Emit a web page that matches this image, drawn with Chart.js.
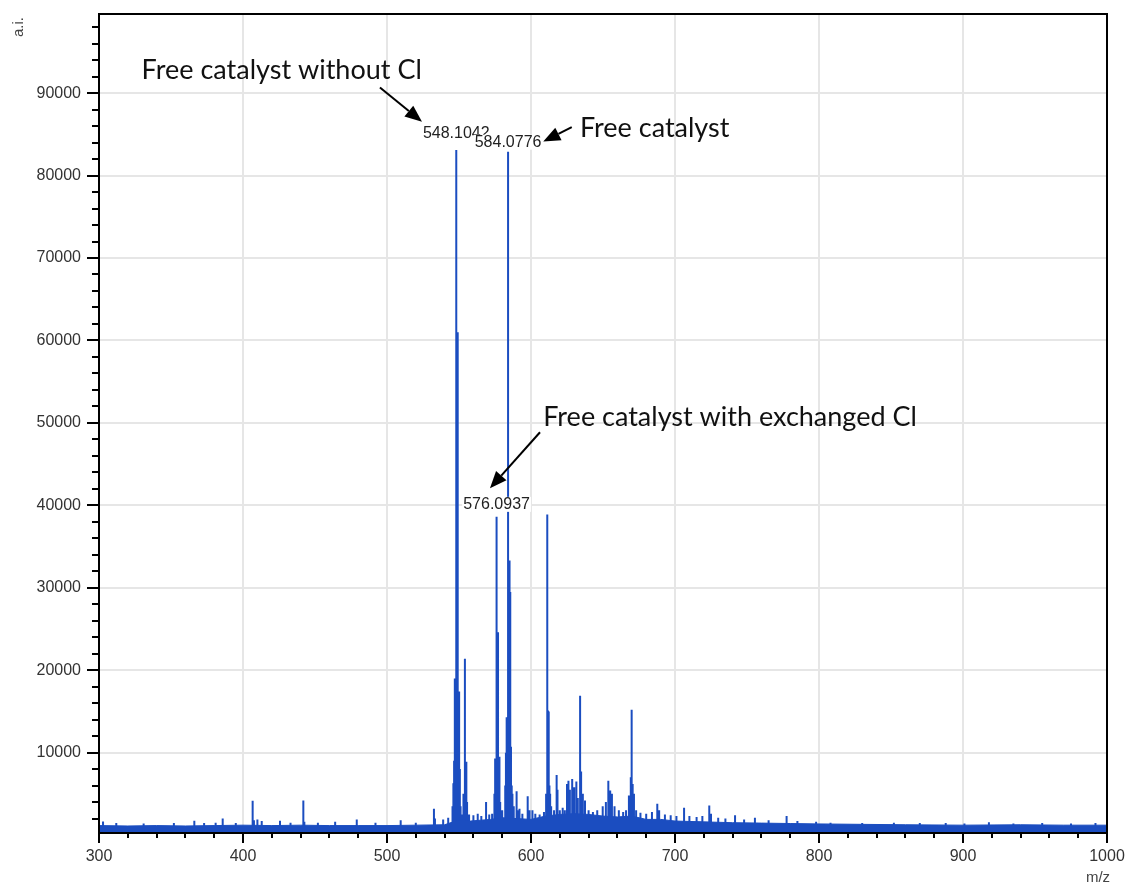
<!DOCTYPE html>
<html>
<head>
<meta charset="utf-8">
<title>MALDI spectrum</title>
<script src="https://cdn.jsdelivr.net/npm/chart.js@4.4.0/dist/chart.umd.min.js"></script>
<style>
  html, body { margin: 0; padding: 0; background: #fff; }
</style>
</head>
<body>
<canvas id="spectrum" width="1128" height="888"></canvas>
<script>
// axis ranges and ticks
const X_MIN = 300, X_MAX = 1000, X_MINOR = 20;
const Y_MIN = 250, Y_MAX = 99600, Y_MINOR = 2000;
const xMajorTicks = [300, 400, 500, 600, 700, 800, 900, 1000];
const yMajorTicks = [10000, 20000, 30000, 40000, 50000, 60000, 70000, 80000, 90000];

// noise floor of the trace (m/z, a.i.)
const baselineMz = [300, 320, 340, 360, 380, 400, 420, 440, 460, 480, 500, 520, 540, 546, 552, 558, 565,
  572, 580, 590, 600, 610, 620, 630, 640, 650, 660, 670, 680, 690, 700, 720, 740, 760, 780, 800, 830,
  860, 900, 940, 970, 1000];
const baselineLevel = [1150, 1100, 1150, 1100, 1150, 1200, 1150, 1200, 1150, 1150, 1150, 1200, 1250, 1600,
  1900, 1700, 1800, 1900, 2100, 2000, 1900, 2300, 2500, 2600, 2500, 2300, 2200, 2300, 1900, 1900, 1700,
  1600, 1500, 1450, 1400, 1350, 1300, 1250, 1200, 1250, 1200, 1200];

// peak list (m/z, a.i.)
const peakMz = [302.8, 312, 331, 352, 366.2, 373, 381, 385.9, 395, 406.7, 407.6, 410, 413, 425.7, 433,
  441.9, 442.6, 452, 464, 479, 492, 509.5, 520, 532.6, 533.3, 539, 542.5,
  545.5, 546.1, 546.6, 547.1, 547.6, 548.1042, 548.6, 549.1, 549.6, 550.1, 550.6, 551.1, 552.2, 553.1,
  554.1, 554.6, 555.1, 555.6, 557, 560, 563, 565.5, 568.8, 571, 573, 574.6, 575.1, 575.6, 576.0937,
  576.6, 577.1, 577.6, 578.1, 578.6, 580, 582.1, 582.6, 583.1, 583.6, 584.0776, 585.1, 585.6, 586.1,
  586.6, 587.1, 588, 590, 590.6, 592, 594, 597.7, 599, 601, 603, 606, 609, 610.5, 611.3, 611.8, 612.3,
  612.8, 613.3, 614, 616, 617.8, 618.4, 620, 622, 623.5, 625, 626, 627, 628.6, 630, 631.5, 632.5, 634.1,
  634.8, 636, 637.5, 640, 643, 646, 649.8, 652, 653.7, 655, 656.2, 658, 661, 664, 666, 668, 669.3,
  669.9, 670.6, 671.5, 673, 676, 680, 684, 687.7, 689, 693, 697, 701, 706.3, 710, 715, 719, 723.8, 725,
  730, 735, 741.7, 748, 755.5, 765, 777.5, 785, 798, 808, 830, 852, 870, 888, 901, 918, 935, 955, 975, 992];
const peakHeight = [1650, 1450, 1400, 1450, 1750, 1450, 1500, 2000, 1450, 4150, 1800, 1900, 1700, 1750, 1500,
  4200, 1600, 1500, 1600, 1900, 1500, 1800, 1500, 3200, 2000, 1900, 2100,
  3500, 6300, 9000, 19000, 15000, 83100, 17000, 61000, 17000, 17400, 8000, 3500, 2500, 5000,
  21400, 8000, 8900, 4000, 2500, 2400, 2600, 2300, 4000, 2500, 2600, 5000, 9300, 9000, 38600,
  9500, 24600, 9000, 9500, 4000, 3000, 6000, 10000, 14300, 12000, 82900, 33300, 29500, 10700,
  6000, 5000, 3500, 5300, 3000, 3200, 2600, 4700, 3000, 3000, 2600, 2500, 2800, 5000, 38900, 15100, 15000,
  6000, 5000, 3500, 3000, 7300, 5500, 3000, 3300, 3000, 6200, 6600, 5500, 6800, 5800, 6500, 4500, 16900,
  7700, 5000, 4200, 3000, 2800, 3000, 3500, 4000, 6600, 5400, 5000, 3500, 3000, 2800, 3000, 4800, 7000,
  15200, 6200, 5000, 3000, 2700, 2600, 2800, 3800, 3000, 2500, 2400, 2300, 3300, 2300, 2200, 2300, 3600, 2600,
  2100, 2000, 2400, 1900, 2100, 1800, 2300, 1700, 1600, 1500, 1450, 1500, 1450, 1450, 1400, 1550, 1400, 1450, 1400, 1450];

// peaks that carry an m/z label
const labelledPeaks = [548.1042, 584.0776, 576.0937];
const labelLift = [12, 5, 8];

// text callouts, anchored in data units [m/z, a.i.]
const callouts = [
  { text: 'Free catalyst without Cl', at: [329.6, 91700], tail: [495.1, 90680], tip: [524.3, 86520] },
  { text: 'Free catalyst', at: [634.0, 84660], tail: [628.3, 85870], tip: [608.5, 84130] },
  { text: 'Free catalyst with exchanged Cl', at: [608.5, 49660], tail: [606.25, 48860], tip: [571.5, 42060] }
];

const TRACE = '#1b4dc0';
const TICK_FONT = '"Liberation Sans", Arial, sans-serif';
const NOTE_FONT = 'Lato, "Open Sans", sans-serif';

// each peak is a vertical stick from the floor of the plot; null breaks the line between sticks
const sticks = [];
peakMz.forEach((mz, i) => {
  sticks.push({ x: mz, y: Y_MIN }, { x: mz, y: peakHeight[i] }, { x: mz, y: null });
});

function drawArrow(ctx, x0, y0, x1, y1) {
  const ang = Math.atan2(y1 - y0, x1 - x0);
  const len = 17, half = 7;
  const bx = x1 - len * Math.cos(ang), by = y1 - len * Math.sin(ang);
  ctx.strokeStyle = '#000';
  ctx.lineWidth = 2;
  ctx.beginPath();
  ctx.moveTo(x0, y0);
  ctx.lineTo(bx, by);
  ctx.stroke();
  ctx.fillStyle = '#000';
  ctx.beginPath();
  ctx.moveTo(x1, y1);
  ctx.lineTo(bx + half * Math.sin(ang), by - half * Math.cos(ang));
  ctx.lineTo(bx - half * Math.sin(ang), by + half * Math.cos(ang));
  ctx.closePath();
  ctx.fill();
}

const spectrumDecor = {
  id: 'spectrumDecor',
  afterDatasetsDraw(chart) {
    const { ctx, scales: { x, y } } = chart;
    ctx.save();
    // peak labels with a white box behind them
    ctx.font = '16px ' + TICK_FONT;
    ctx.textAlign = 'center';
    ctx.textBaseline = 'alphabetic';
    labelledPeaks.forEach((mz, i) => {
      const h = peakHeight[peakMz.indexOf(mz)];
      const px = x.getPixelForValue(mz);
      const py = y.getPixelForValue(h) - labelLift[i];
      const txt = mz.toFixed(4);
      const w = ctx.measureText(txt).width;
      ctx.fillStyle = '#fff';
      ctx.fillRect(px - w / 2 - 1, py - 12, w + 2, 15);
      ctx.fillStyle = '#222';
      ctx.fillText(txt, px, py);
    });
    // callouts
    callouts.forEach(c => {
      drawArrow(ctx, x.getPixelForValue(c.tail[0]), y.getPixelForValue(c.tail[1]),
        x.getPixelForValue(c.tip[0]), y.getPixelForValue(c.tip[1]));
      ctx.font = '27px ' + NOTE_FONT;
      ctx.fillStyle = '#111';
      ctx.textAlign = 'left';
      ctx.fillText(c.text, x.getPixelForValue(c.at[0]), y.getPixelForValue(c.at[1]));
    });
    ctx.restore();
  },
  afterDraw(chart) {
    const { ctx, chartArea: a, scales: { x, y } } = chart;
    ctx.save();
    ctx.strokeStyle = '#000';
    ctx.lineWidth = 2;
    // tick marks, long at labelled values
    ctx.beginPath();
    y.ticks.forEach(t => {
      const py = Math.round(y.getPixelForValue(t.value));
      const len = yMajorTicks.includes(t.value) ? 12 : 7;
      ctx.moveTo(a.left - len, py);
      ctx.lineTo(a.left, py);
    });
    x.ticks.forEach(t => {
      const px = Math.round(x.getPixelForValue(t.value));
      const len = xMajorTicks.includes(t.value) ? 10 : 5;
      ctx.moveTo(px, a.bottom);
      ctx.lineTo(px, a.bottom + len);
    });
    ctx.stroke();
    // plot frame
    ctx.strokeRect(a.left, a.top, a.right - a.left, a.bottom - a.top);
    // axis titles
    ctx.fillStyle = '#444';
    ctx.font = '15px ' + TICK_FONT;
    ctx.textAlign = 'center';
    ctx.textBaseline = 'middle';
    ctx.fillText('m/z', 1098, 878);
    ctx.translate(19, 27);
    ctx.rotate(-Math.PI / 2);
    ctx.fillText('a.i.', 0, 0);
    ctx.restore();
  }
};

function gridColor(majors) {
  return c => (c.tick && majors.includes(c.tick.value)) ? '#e6e6e6' : 'rgba(0,0,0,0)';
}

new Chart(document.getElementById('spectrum'), {
  type: 'line',
  data: {
    datasets: [
      {
        label: 'baseline',
        data: baselineMz.map((mz, i) => ({ x: mz, y: baselineLevel[i] })),
        borderColor: TRACE,
        backgroundColor: TRACE,
        borderWidth: 1,
        pointRadius: 0,
        tension: 0,
        fill: 'start'
      },
      {
        label: 'peaks',
        data: sticks,
        borderColor: TRACE,
        borderWidth: 2,
        pointRadius: 0,
        tension: 0,
        fill: false,
        spanGaps: false
      }
    ]
  },
  options: {
    responsive: false,
    animation: false,
    layout: { padding: { top: 14, right: 21, left: 0, bottom: 0 } },
    plugins: {
      legend: { display: false },
      tooltip: { enabled: false }
    },
    scales: {
      x: {
        type: 'linear',
        min: X_MIN,
        max: X_MAX,
        afterBuildTicks: s => {
          const t = [];
          for (let v = X_MIN; v <= X_MAX; v += X_MINOR) t.push({ value: v });
          s.ticks = t;
        },
        afterFit: s => {
          s.height = 55;
          s.paddingLeft = 0;
          s.paddingRight = 0;
        },
        ticks: {
          autoSkip: false,
          maxRotation: 0,
          padding: 14,
          color: '#333',
          font: { family: TICK_FONT, size: 16 },
          callback: v => xMajorTicks.includes(v) ? String(v) : ''
        },
        grid: { color: gridColor(xMajorTicks), lineWidth: 2, drawTicks: false },
        border: { display: false }
      },
      y: {
        type: 'linear',
        min: Y_MIN,
        max: Y_MAX,
        afterBuildTicks: s => {
          const t = [];
          for (let v = Y_MINOR; v <= Y_MAX; v += Y_MINOR) t.push({ value: v });
          s.ticks = t;
        },
        afterFit: s => {
          s.width = 99;
          s.paddingTop = 0;
          s.paddingBottom = 0;
        },
        ticks: {
          autoSkip: false,
          padding: 18,
          color: '#333',
          font: { family: TICK_FONT, size: 16 },
          callback: v => yMajorTicks.includes(v) ? String(v) : ''
        },
        grid: { color: gridColor(yMajorTicks), lineWidth: 2, drawTicks: false },
        border: { display: false }
      }
    }
  },
  plugins: [spectrumDecor]
});
</script>
</body>
</html>
